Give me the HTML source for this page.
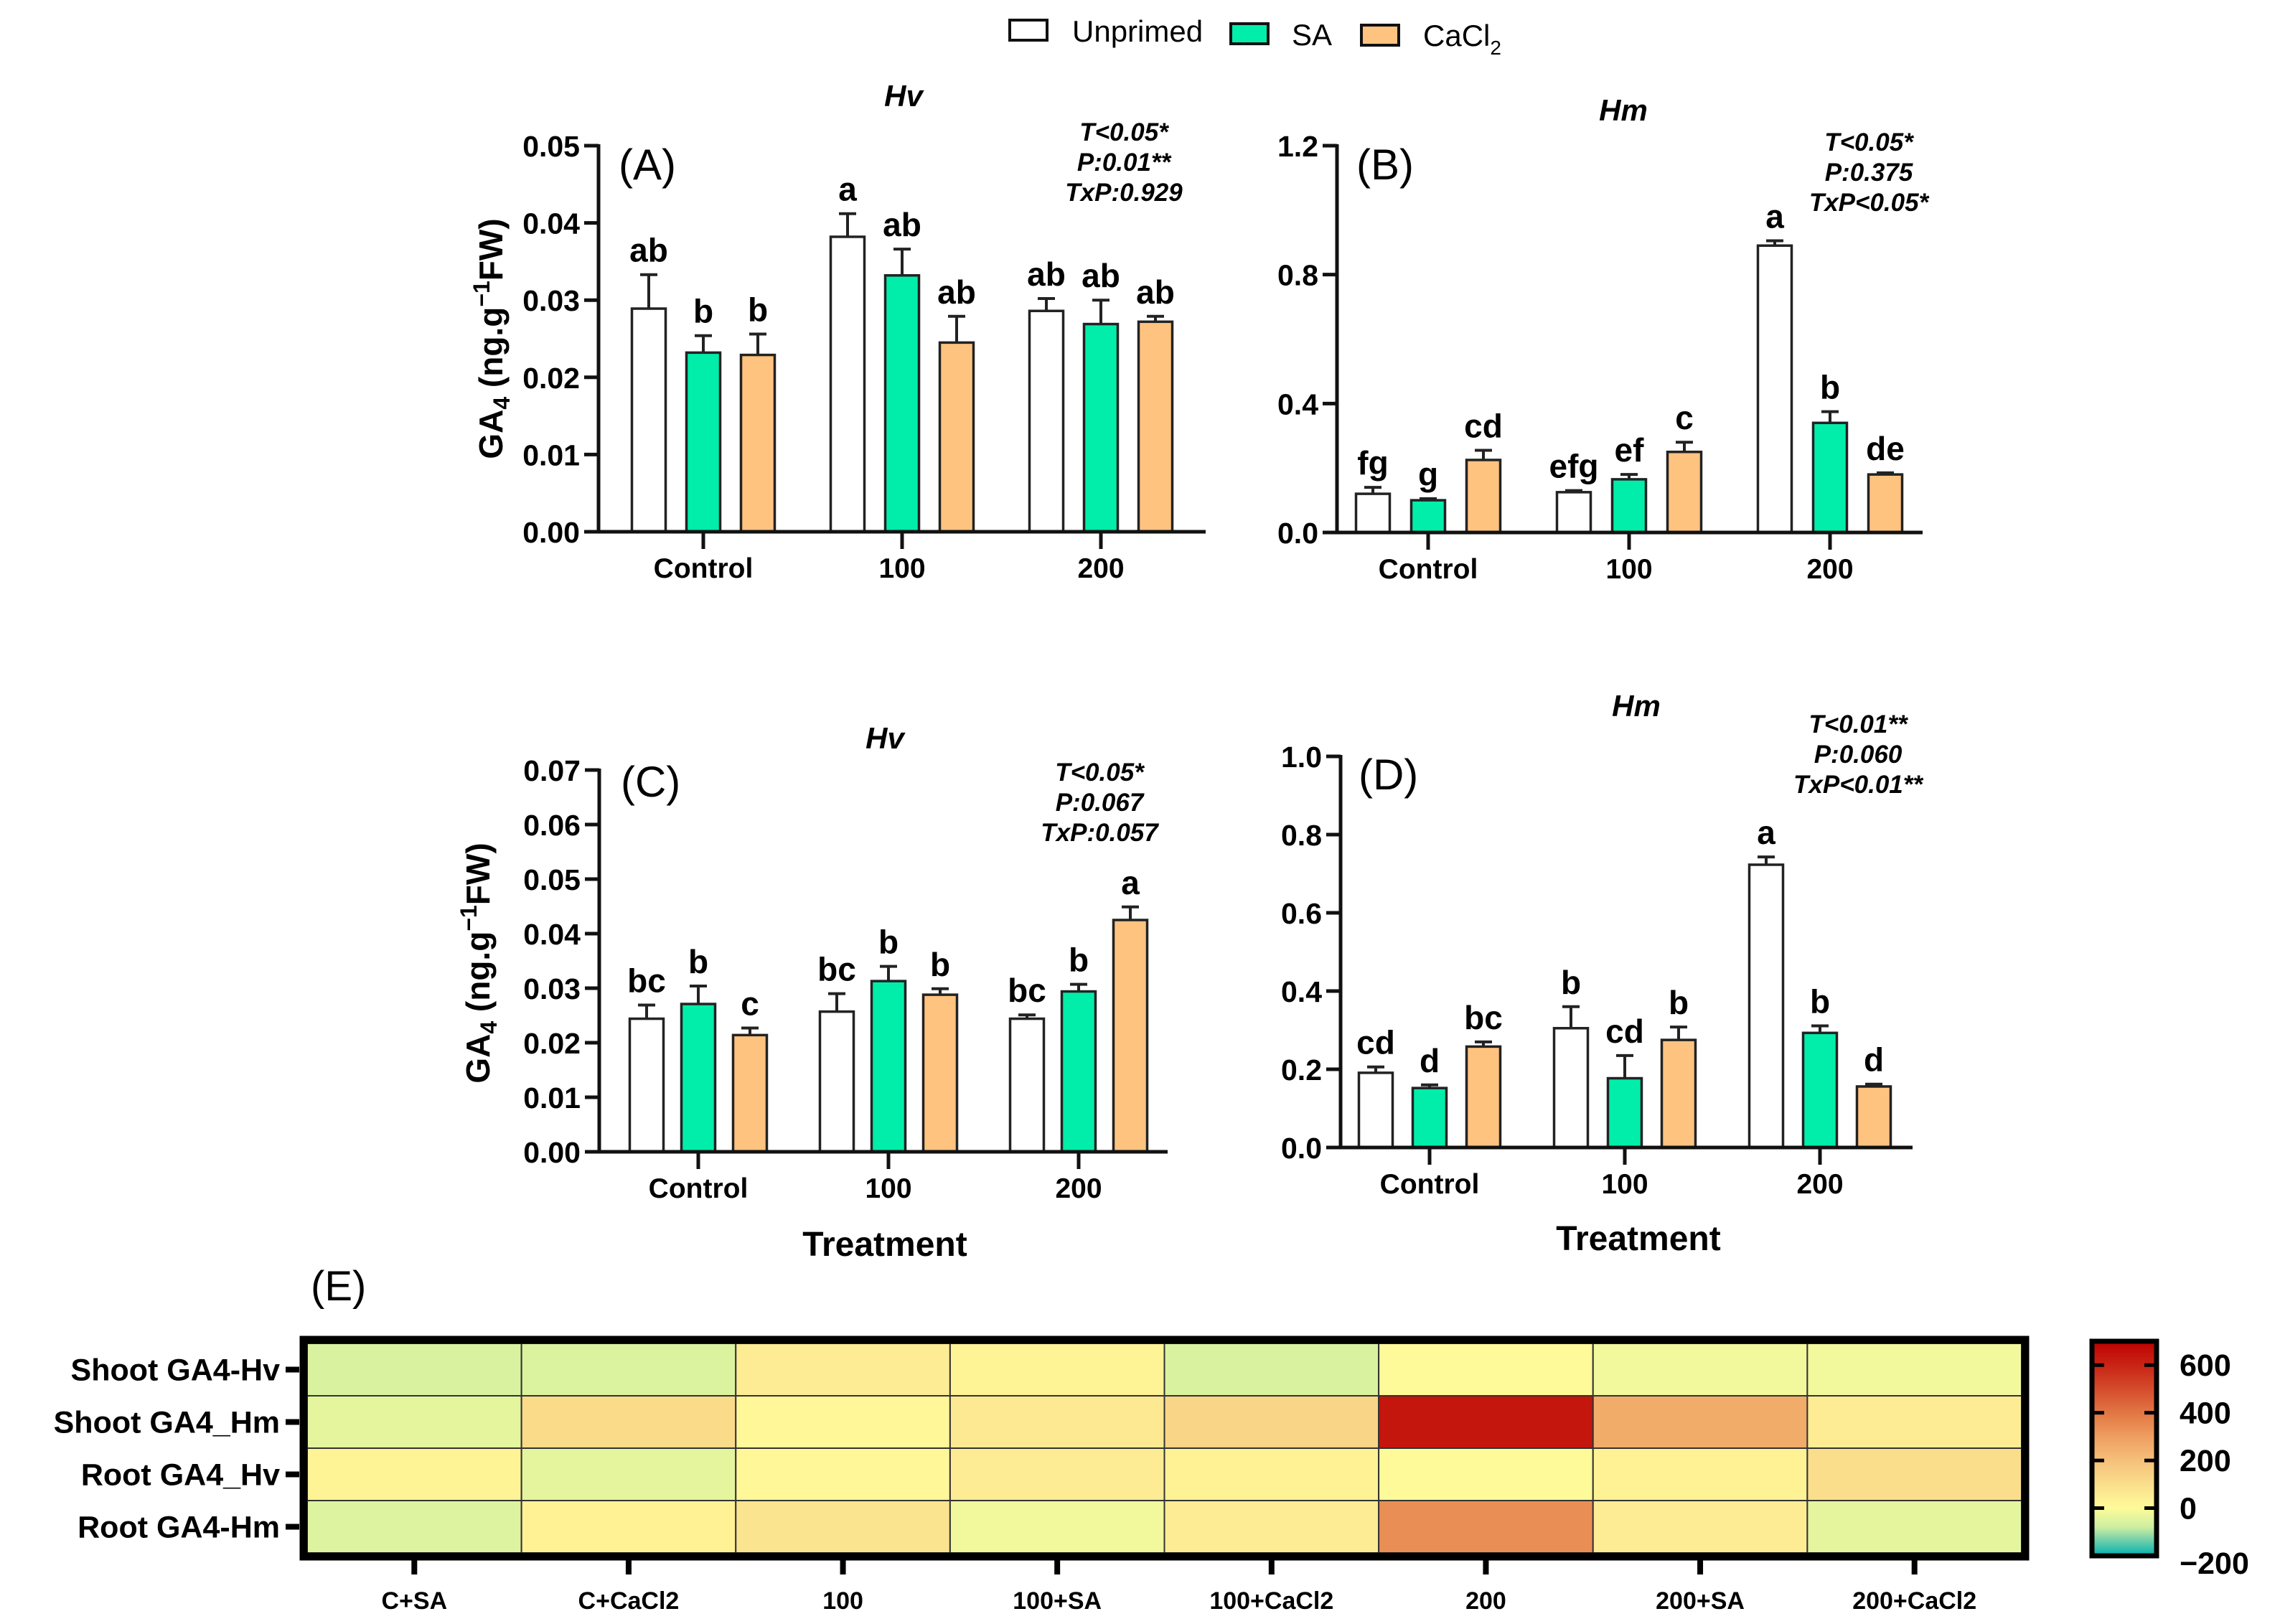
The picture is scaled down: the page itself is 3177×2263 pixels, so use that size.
<!DOCTYPE html>
<html><head><meta charset="utf-8"><style>
html,body{margin:0;padding:0;background:#fff;}
svg{display:block;font-family:"Liberation Sans",Arial,sans-serif;}
</style></head><body>
<svg id="fig" width="3177" height="2263" viewBox="0 0 3177 2263" xmlns="http://www.w3.org/2000/svg">
<rect width="3177" height="2263" fill="#fff"/>
<g id="legend">
  <g><rect x="1407" y="28" width="52" height="28" fill="#fff" stroke="#111" stroke-width="4"/><text x="1494" y="58" font-size="42">Unprimed</text></g>
  <g><rect x="1715" y="33" width="52" height="28" fill="#00eeaa" stroke="#111" stroke-width="4"/><text x="1800" y="63" font-size="42">SA</text></g>
  <g><rect x="1897" y="35" width="52" height="28" fill="#ffc380" stroke="#111" stroke-width="4"/><text x="1983" y="64" font-size="42">CaCl<tspan font-size="28" dy="12">2</tspan></text></g>
</g>
<g id="panels"></g>
<g id="heat"></g>
</svg>
<script>
// ---------- Panel data ----------
const categories = ["Control","100","200"];
const seriesNames = ["Unprimed","SA","CaCl2"];
// Panel A (shoot Hv)
const aMeans = [[0.0289,0.0232,0.0229],[0.0382,0.0332,0.0245],[0.0286,0.0269,0.0272]];
const aErrTop = [[0.0333,0.0254,0.0256],[0.0412,0.0366,0.0279],[0.0302,0.0300,0.0279]];
const aLetters = [["ab","b","b"],["a","ab","ab"],["ab","ab","ab"]];
const aTicks = [0,0.01,0.02,0.03,0.04,0.05];
const aTickLabels = ["0.00","0.01","0.02","0.03","0.04","0.05"];
// Panel B (shoot Hm)
const bMeans = [[0.12,0.10,0.225],[0.125,0.165,0.25],[0.89,0.34,0.18]];
const bErrTop = [[0.14,0.105,0.255],[0.13,0.18,0.28],[0.905,0.375,0.185]];
const bLetters = [["fg","g","cd"],["efg","ef","c"],["a","b","de"]];
const bTicks = [0,0.4,0.8,1.2];
const bTickLabels = ["0.0","0.4","0.8","1.2"];
// Panel C (root Hv)
const cMeans = [[0.0244,0.0271,0.0214],[0.0257,0.0313,0.0288],[0.0244,0.0294,0.0425]];
const cErrTop = [[0.0269,0.0304,0.0227],[0.0290,0.0340,0.0299],[0.0251,0.0307,0.0449]];
const cLetters = [["bc","b","c"],["bc","b","b"],["bc","b","a"]];
const cTicks = [0,0.01,0.02,0.03,0.04,0.05,0.06,0.07];
const cTickLabels = ["0.00","0.01","0.02","0.03","0.04","0.05","0.06","0.07"];
// Panel D (root Hm)
const dMeans = [[0.191,0.152,0.258],[0.305,0.177,0.275],[0.723,0.293,0.156]];
const dErrTop = [[0.206,0.160,0.270],[0.360,0.235,0.308],[0.743,0.311,0.162]];
const dLetters = [["cd","d","bc"],["b","cd","b"],["a","b","d"]];
const dTicks = [0,0.2,0.4,0.6,0.8,1.0];
const dTickLabels = ["0.0","0.2","0.4","0.6","0.8","1.0"];
// ---------- Heatmap data ----------
const hmCols = ["C+SA","C+CaCl2","100","100+SA","100+CaCl2","200","200+SA","200+CaCl2"];
const hmRows = ["Shoot GA4-Hv","Shoot GA4_Hm","Root GA4_Hv","Root GA4-Hm"];
const hmShootHv = [-60,-55,50,20,-60,0,-20,-20];
const hmShootHm = [-40,110,10,60,130,640,260,50];
const hmRootHv = [20,-40,10,50,30,0,30,100];
const hmRootHm = [-50,30,80,-20,50,340,50,-40];
const cbTicks = [600,400,200,0,-200];
const cbTickLabels = ["600","400","200","0","\u2212200"];

const NS="http://www.w3.org/2000/svg";
function mk(tag,attrs,parent){const e=document.createElementNS(NS,tag);for(const k in attrs)e.setAttribute(k,attrs[k]);parent.appendChild(e);return e;}
const fills=["#ffffff","#00eeaa","#ffc380"];
const panelsG=document.getElementById('panels');

const panels=[
 {id:"a",label:"(A)",means:aMeans,err:aErrTop,letters:aLetters,ticks:aTicks,tl:aTickLabels,max:0.05,x0:834,x1:1680,y0:741,yT:203,off:146,gap:277,step:76,
  title:"Hv",tx:1259,ty:148,stats:["T<0.05*","P:0.01**","TxP:0.929"],sx:1566,sy:196,lx:862,ly:250,ytitle:[700,472],treat:null},
 {id:"b",label:"(B)",means:bMeans,err:bErrTop,letters:bLetters,ticks:bTicks,tl:bTickLabels,max:1.2,x0:1863,x1:2679,y0:742,yT:203,off:127,gap:280,step:77,
  title:"Hm",tx:2262,ty:168,stats:["T<0.05*","P:0.375","TxP<0.05*"],sx:2604,sy:210,lx:1890,ly:250,ytitle:null,treat:null},
 {id:"c",label:"(C)",means:cMeans,err:cErrTop,letters:cLetters,ticks:cTicks,tl:cTickLabels,max:0.07,x0:835,x1:1627,y0:1605,yT:1073,off:138,gap:265,step:72,
  title:"Hv",tx:1233,ty:1043,stats:["T<0.05*","P:0.067","TxP:0.057"],sx:1532,sy:1088,lx:865,ly:1110,ytitle:[682,1342],treat:[1233,1750]},
 {id:"d",label:"(D)",means:dMeans,err:dErrTop,letters:dLetters,ticks:dTicks,tl:dTickLabels,max:1.0,x0:1868,x1:2665,y0:1599,yT:1054,off:124,gap:272,step:75,
  title:"Hm",tx:2280,ty:998,stats:["T<0.01**","P:0.060","TxP<0.01**"],sx:2589,sy:1021,lx:1893,ly:1100,ytitle:null,treat:[2283,1742]}
];

panels.forEach(p=>{
  const g=mk('g',{},panelsG);
  
  
  const y=v=>p.y0-(v/p.max)*(p.y0-p.yT);
  const cx=i=>p.x0+p.off+i*p.gap;
  p.means.forEach((grp,i)=>{
    grp.forEach((v,j)=>{
      const xc=cx(i)+(j-1)*p.step, w=47;
      const et=mk('line',{x1:xc,x2:xc,y1:y(v),y2:y(p.err[i][j]),stroke:'#222','stroke-width':4},g);
      
      
      const cap=mk('line',{x1:xc-12,x2:xc+12,y1:y(p.err[i][j]),y2:y(p.err[i][j]),stroke:'#222','stroke-width':4},g);
      
      
      const r=mk('rect',{x:xc-w/2,y:y(v),width:w,height:p.y0-y(v),fill:fills[j],stroke:'#222','stroke-width':3.5},g);
      
      
      const t=mk('text',{x:xc,y:y(p.err[i][j])-18,'font-size':46,'font-weight':'bold','text-anchor':'middle'},g);
      t.textContent=p.letters[i][j];
      
      
    });
    const tk=mk('line',{x1:cx(i),x2:cx(i),y1:p.y0,y2:p.y0+24,stroke:'#111','stroke-width':5},g);
    
    
    const tl=mk('text',{x:cx(i),y:p.y0+64,'font-size':39,'font-weight':'bold','text-anchor':'middle'},g);
    tl.textContent=categories[i];
    
    
  });
  const ya=mk('line',{x1:p.x0,x2:p.x0,y1:p.yT-2,y2:p.y0+2,stroke:'#111','stroke-width':5},g);
  
  
  const xa=mk('line',{x1:p.x0-20,x2:p.x1,y1:p.y0,y2:p.y0,stroke:'#111','stroke-width':5},g);
  
  
  p.ticks.forEach((v,k)=>{
    const l=mk('line',{x1:p.x0-20,x2:p.x0,y1:y(v),y2:y(v),stroke:'#111','stroke-width':5},g);
    
    
    const t=mk('text',{x:p.x0-26,y:y(v)+15,'font-size':41,'font-weight':'bold','text-anchor':'end'},g);
    t.textContent=p.tl[k];
    
    
  });
  const pl=mk('text',{x:p.lx,y:p.ly,'font-size':60},g);
  pl.textContent=p.label;
  
  
  const ti=mk('text',{x:p.tx,y:p.ty,'font-size':42,'font-weight':'bold','font-style':'italic','text-anchor':'middle'},g);
  ti.textContent=p.title;
  
  
  p.stats.forEach((s,k)=>{
    const t=mk('text',{x:p.sx,y:p.sy+k*42,'font-size':35,'font-weight':'bold','font-style':'italic','text-anchor':'middle'},g);
    t.textContent=s;
    
    
  });
  if(p.ytitle){
    const t=mk('text',{x:0,y:0,'font-size':46,'font-weight':'bold','text-anchor':'middle',transform:`translate(${p.ytitle[0]},${p.ytitle[1]}) rotate(-90)`},g);
    t.innerHTML='GA<tspan font-size="32" dy="10">4</tspan><tspan dy="-10"> (ng.g</tspan><tspan font-size="32" dy="-18">\u22121</tspan><tspan dy="18">FW)</tspan>';
    
    
  }
  if(p.treat){
    const t=mk('text',{x:p.treat[0],y:p.treat[1],'font-size':48,'font-weight':'bold','text-anchor':'middle'},g);
    t.textContent='Treatment';
    
    
  }
});

// ---------- Heatmap ----------
const hg=document.getElementById('heat');
const hmData=[hmShootHv,hmShootHm,hmRootHv,hmRootHm];
const HX0=428,HX1=2817,HY0=1872,HY1=2164;
const cw=(HX1-HX0)/hmCols.length, rh=(HY1-HY0)/hmRows.length;
const stops=[[-200,[0,176,176]],[-130,[120,210,170]],[-80,[205,238,160]],[-40,[228,245,158]],[0,[255,250,153]],[100,[250,222,140]],[200,[245,192,122]],[300,[238,158,96]],[400,[226,118,68]],[500,[212,76,44]],[600,[200,36,20]],[700,[190,0,0]]];
function col(v){
  if(v<=stops[0][0])return 'rgb('+stops[0][1]+')';
  for(let i=1;i<stops.length;i++){if(v<=stops[i][0]){const a=stops[i-1],b=stops[i],t=(v-a[0])/(b[0]-a[0]);return 'rgb('+a[1].map((c,k)=>Math.round(c+(b[1][k]-c)*t)).join(',')+')';}}
  return 'rgb('+stops[stops.length-1][1]+')';
}
const el=mk('text',{x:433,y:1812,'font-size':58},hg);
el.textContent='(E)';


hmData.forEach((row,r)=>{
  row.forEach((v,c)=>{
    const rc=mk('rect',{x:HX0+c*cw,y:HY0+r*rh,width:cw,height:rh,fill:col(v),stroke:'#333','stroke-width':2},hg);
    
    
  });
  const yc=HY0+(r+0.5)*rh;
  const tk=mk('line',{x1:398,x2:417,y1:yc,y2:yc,stroke:'#000','stroke-width':8},hg);
  
  
  const t=mk('text',{x:390,y:yc+15,'font-size':43,'font-weight':'bold','text-anchor':'end'},hg);
  t.textContent=hmRows[r];
  
  
});
const hb=mk('rect',{x:HX0-5,y:HY0-5,width:HX1-HX0+10,height:HY1-HY0+10,fill:'none',stroke:'#000','stroke-width':11},hg);


hmCols.forEach((c,i)=>{
  const xc=HX0+(i+0.5)*cw;
  const tk=mk('line',{x1:xc,x2:xc,y1:HY1+10,y2:HY1+30,stroke:'#000','stroke-width':8},hg);
  
  
  const t=mk('text',{x:xc,y:2242,'font-size':34,'font-weight':'bold','text-anchor':'middle'},hg);
  t.textContent=c;
  
  
});
const defs=mk('defs',{},hg);
const lg=mk('linearGradient',{id:'cbg',x1:0,y1:1,x2:0,y2:0},defs);
const CBmin=-200,CBmax=700,CBy0=2168,CBy1=1869;
stops.forEach(s=>{mk('stop',{offset:((s[0]-CBmin)/(CBmax-CBmin)),'stop-color':'rgb('+s[1]+')'},lg);});
const cb=mk('rect',{x:2915,y:CBy1,width:90,height:CBy0-CBy1,fill:'url(#cbg)',stroke:'#000','stroke-width':7},hg);


const cy=v=>CBy0-(v-CBmin)/(CBmax-CBmin)*(CBy0-CBy1);
cbTicks.forEach((v,k)=>{
  if(v>CBmin){
    mk('line',{x1:2915,x2:2932,y1:cy(v),y2:cy(v),stroke:'#000','stroke-width':5},hg);
    mk('line',{x1:2988,x2:3005,y1:cy(v),y2:cy(v),stroke:'#000','stroke-width':5},hg);
  }
  const t=mk('text',{x:3037,y:cy(v)+15+(v===CBmin?10:0),'font-size':43,'font-weight':'bold'},hg);
  t.textContent=cbTickLabels[k];
  
  
});
</script>
</body></html>
